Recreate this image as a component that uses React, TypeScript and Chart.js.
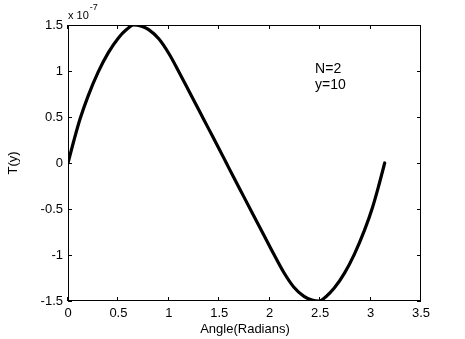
import React, { useEffect, useRef } from "react";
import { Chart, registerables } from "chart.js";

Chart.register(...registerables);

// Angle (radians)
const angle: number[] = [
  0.0, 0.06, 0.12, 0.2, 0.3, 0.4, 0.5, 0.58, 0.65, 0.72, 0.8, 0.9, 1.0, 1.1, 1.2, 1.3, 1.4, 1.5, 1.57,
  1.64, 1.74, 1.84, 1.94, 2.04, 2.14, 2.24, 2.34, 2.42, 2.49, 2.56, 2.64, 2.74, 2.84, 2.94, 3.02, 3.08, 3.14,
];
// T(y) in units of 1e-7
const tValues: number[] = [
  0.0, 0.25, 0.48, 0.73, 0.99, 1.2, 1.36, 1.45, 1.5, 1.49, 1.45, 1.35, 1.19, 0.99, 0.78, 0.57, 0.36, 0.15, 0.0,
  -0.15, -0.36, -0.57, -0.78, -0.99, -1.19, -1.35, -1.45, -1.49, -1.5, -1.45, -1.36, -1.2, -0.99, -0.73, -0.48, -0.25, 0.0,
];
const xTicks: number[] = [0, 0.5, 1, 1.5, 2, 2.5, 3, 3.5];
const yTicks: number[] = [-1.5, -1, -0.5, 0, 0.5, 1, 1.5];
const annotationLines: string[] = ["N=2", "y=10"];

const FONT = '"Liberation Sans", Arial, sans-serif';

const framePlugin = {
  id: "matlabFrame",
  afterDraw(chart: any) {
    const { ctx, chartArea } = chart;
    const xs = chart.scales.x;
    const ys = chart.scales.y;
    const { left, right, top, bottom } = chartArea;
    ctx.save();
    ctx.strokeStyle = "#000";
    ctx.lineWidth = 1;
    ctx.strokeRect(left + 0.5, top + 0.5, right - left - 1, bottom - top - 1);
    const tl = 4;
    ctx.beginPath();
    for (const v of xTicks) {
      const px = Math.round(xs.getPixelForValue(v)) - 0.5;
      ctx.moveTo(px, bottom);
      ctx.lineTo(px, bottom - tl);
      ctx.moveTo(px, top);
      ctx.lineTo(px, top + tl);
    }
    for (const v of yTicks) {
      const py = Math.round(ys.getPixelForValue(v)) + 0.5;
      ctx.moveTo(left, py);
      ctx.lineTo(left + tl, py);
      ctx.moveTo(right, py);
      ctx.lineTo(right - tl, py);
    }
    ctx.stroke();

    ctx.fillStyle = "#000";
    // exponent label
    ctx.textAlign = "left";
    ctx.textBaseline = "alphabetic";
    ctx.font = `11px ${FONT}`;
    ctx.fillText("x 10", left, 19);
    const w = ctx.measureText("x 10").width;
    ctx.font = `9px ${FONT}`;
    ctx.fillText("-7", left + w + 1, 10);

    // axis titles
    ctx.font = `13px ${FONT}`;
    ctx.textAlign = "center";
    ctx.fillText("Angle(Radians)", (left + right) / 2 + 0.5, 333);
    ctx.save();
    ctx.translate(17, (top + bottom) / 2);
    ctx.rotate(-Math.PI / 2);
    ctx.fillText("T(y)", 0, 0);
    ctx.restore();

    // annotation
    ctx.textAlign = "left";
    ctx.font = `14px ${FONT}`;
    const ax = xs.getPixelForValue(2.45);
    ctx.fillText(annotationLines[0], ax, ys.getPixelForValue(1.03) + 5);
    ctx.fillText(annotationLines[1], ax, ys.getPixelForValue(0.86) + 5);
    ctx.restore();
  },
};

const fmt = (v: number | string) => {
  const n = Number(v);
  return String(Math.round(n * 10) / 10);
};

export default function App() {
  const ref = useRef<HTMLCanvasElement | null>(null);
  useEffect(() => {
    if (!ref.current) return;
    const chart = new Chart(ref.current, {
      type: "line",
      data: {
        datasets: [
          {
            data: angle.map((a, i) => ({ x: a, y: tValues[i] })),
            borderColor: "#000",
            borderWidth: 3.2,
            pointRadius: 0,
            cubicInterpolationMode: "monotone",
            borderJoinStyle: "round",
            borderCapStyle: "round",
            fill: false,
          },
        ],
      },
      options: {
        animation: false,
        responsive: false,
        devicePixelRatio: 1,
        layout: { padding: { left: 0, top: 25, right: 44, bottom: 0 } },
        plugins: { legend: { display: false }, tooltip: { enabled: false } },
        scales: {
          x: {
            type: "linear",
            min: 0,
            max: 3.5,
            afterFit: (s: any) => {
              s.height = 38;
            },
            afterBuildTicks: (s: any) => {
              s.ticks = xTicks.map((v) => ({ value: v }));
            },
            grid: { display: false, drawTicks: false },
            border: { display: false },
            ticks: {
              color: "#000",
              font: { family: FONT, size: 13 },
              padding: 5,
              maxRotation: 0,
              autoSkip: false,
              callback: fmt,
            },
          },
          y: {
            type: "linear",
            min: -1.5,
            max: 1.5,
            afterFit: (s: any) => {
              s.width = 68;
            },
            afterBuildTicks: (s: any) => {
              s.ticks = yTicks.map((v) => ({ value: v }));
            },
            grid: { display: false, drawTicks: false },
            border: { display: false },
            ticks: {
              color: "#000",
              font: { family: FONT, size: 13 },
              padding: 5,
              autoSkip: false,
              callback: fmt,
            },
          },
        },
      },
      plugins: [framePlugin],
    });
    return () => chart.destroy();
  }, []);
  return (
    <div style={{ position: "absolute", left: 0, top: 0, width: 465, height: 339, background: "#fff" }}>
      <canvas ref={ref} width={465} height={339} />
    </div>
  );
}
